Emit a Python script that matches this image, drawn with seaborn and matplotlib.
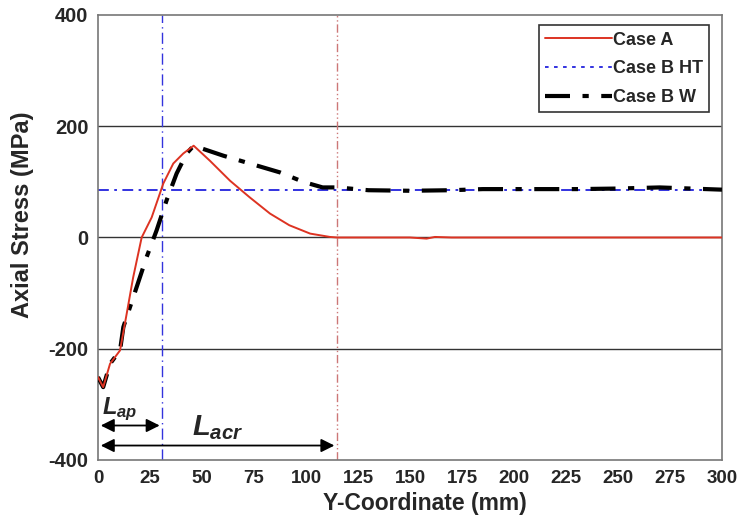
import matplotlib
matplotlib.use("Agg")
import matplotlib.pyplot as plt
from matplotlib.lines import Line2D
import seaborn as sns
import pandas as pd

# ---- data ----
case_a_x = [0, 2.5, 5.8, 10.6, 13.8, 16.9, 21, 25.8, 31.4, 36.2, 41, 46, 53.8, 63.5, 73, 82.7, 92, 102, 111.5, 115,
            130, 150, 158, 162, 170, 200, 250, 300]
case_a_y = [-251, -269, -227, -203, -137, -72, 0, 36, 97, 133, 151, 165, 138, 102, 72, 43, 22, 7, 1, 0,
            0, 0, -2, 1, 0, 0, 0, 0]

case_bw_x = [0, 2.5, 5.8, 10.6, 12.2, 17, 23.4, 28.2, 33, 37.8, 42.6, 46, 60.3, 73, 87.5, 98.7, 108, 115,
             130, 150, 170, 185, 230, 250, 270, 285, 300]
case_bw_y = [-251, -269, -227, -203, -161, -107, -35, 13, 67, 115, 151, 165, 147, 133, 117, 100, 90, 90,
             85, 84, 85, 87, 87, 88, 90, 88, 86]

case_bht_x = [0, 300]
case_bht_y = [86, 86]

l_ap = 31
l_acr = 115

x_ticks = [0, 25, 50, 75, 100, 125, 150, 175, 200, 225, 250, 275, 300]
y_ticks = [-400, -200, 0, 200, 400]

# ---- plot ----
sns.set_theme(style="white")
plt.rcParams['font.family'] = ['Liberation Sans', 'DejaVu Sans']
plt.rcParams['font.weight'] = 'bold'
plt.rcParams['axes.unicode_minus'] = False
plt.rcParams['mathtext.fontset'] = 'custom'
plt.rcParams['mathtext.rm'] = 'Liberation Sans:bold'
plt.rcParams['mathtext.it'] = 'Liberation Sans:italic:bold'
plt.rcParams['mathtext.bf'] = 'Liberation Sans:italic:bold'

fig = plt.figure(figsize=(7.44, 5.28), dpi=100)
ax = fig.add_axes([0.1317, 0.1288, 0.8387, 0.8428])

for yv in [-200, 0, 200]:
    ax.axhline(yv, color='#333333', lw=1.0, zorder=0)

ax.axvline(l_ap, color='#3333dd', lw=1.0, ls=(0, (8, 3, 1, 3)), zorder=1)
ax.axvline(l_acr, color='#cc7777', lw=1.0, ls=(0, (6, 2, 1, 2, 1, 2)), zorder=1)

df_a = pd.DataFrame({'x': case_a_x, 'y': case_a_y})
df_bw = pd.DataFrame({'x': case_bw_x, 'y': case_bw_y})
df_bht = pd.DataFrame({'x': case_bht_x, 'y': case_bht_y})

sns.lineplot(data=df_bht, x='x', y='y', ax=ax, color='#2222dd', lw=1.3,
             ls=(0, (6, 3, 1.5, 3)), zorder=2)
sns.lineplot(data=df_bw, x='x', y='y', ax=ax, color='black', lw=3.0,
             ls=(0, (6, 3, 1.5, 3)), zorder=3)
sns.lineplot(data=df_a, x='x', y='y', ax=ax, color='#dd3322', lw=1.4, zorder=4)

ax.set_xlim(0, 300)
ax.set_ylim(-400, 400)
ax.set_xticks(x_ticks)
ax.set_yticks(y_ticks)
ax.tick_params(axis='both', direction='in', length=4, width=1, color='#555555', pad=7)
ax.tick_params(axis='x', labelsize=13.5)
ax.tick_params(axis='y', labelsize=14.5)
for lbl in ax.get_xticklabels() + ax.get_yticklabels():
    lbl.set_fontweight('bold')
ax.set_xlabel('Y-Coordinate (mm)', fontsize=16.5, fontweight='bold')
ax.set_ylabel('Axial Stress (MPa)', fontsize=17, fontweight='bold')
ax.xaxis.set_label_coords(0.524, -0.072)
ax.yaxis.set_label_coords(-0.102, 0.55)
for sp in ax.spines.values():
    sp.set_color('#777777')
    sp.set_linewidth(1.2)

# annotations
ax.annotate('', xy=(l_ap, -338), xytext=(0, -338),
            arrowprops=dict(arrowstyle='<|-|>', color='black', lw=1.3, mutation_scale=20))
ax.annotate('', xy=(l_acr, -374), xytext=(0, -374),
            arrowprops=dict(arrowstyle='<|-|>', color='black', lw=1.3, mutation_scale=20))
ax.text(2, -308, r'$L_{ap}$', fontsize=17, va='center', ha='left')
ax.text(45, -342, r'$L_{acr}$', fontsize=21, va='center', ha='left')

# legend
handles = [
    Line2D([], [], color='#dd3322', lw=1.4),
    Line2D([], [], color='#2222dd', lw=1.3, ls=(0, (2, 3))),
    Line2D([], [], color='black', lw=3.0, ls=(0, (6, 3, 1.5, 3))),
]
labels = ['Case A', 'Case B HT', 'Case B W']
leg = ax.legend(handles, labels, loc='upper right',
                bbox_to_anchor=(0.985, 0.985), frameon=True, fancybox=False,
                edgecolor='black', handlelength=3.7, handletextpad=0.05,
                prop={'weight': 'bold', 'size': 13}, borderpad=0.35, labelspacing=0.65,
                borderaxespad=0.2)
leg.get_frame().set_linewidth(1.2)

fig.savefig('out.png', dpi=100)
